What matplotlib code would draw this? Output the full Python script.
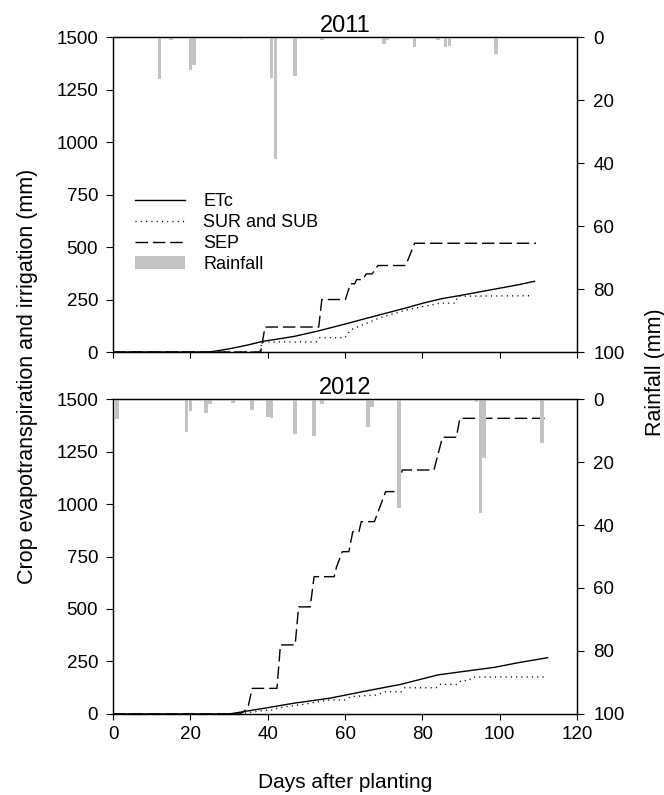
import matplotlib
matplotlib.use('Agg')
import matplotlib.pyplot as plt
from matplotlib.patches import Patch

plt.rcParams['font.family'] = ['Liberation Sans', 'DejaVu Sans']
plt.rcParams['font.size'] = 13.5

# 2011 cumulative water (mm) vs days after planting
etc11_days = [0, 25, 30, 35, 39, 42, 47, 53, 60, 65, 70, 76, 80, 85, 90, 95, 100, 105, 109]
etc11_mm = [0, 0, 15, 34, 52, 60, 75, 100, 133, 158, 182, 211, 232, 254, 270, 287, 304, 321, 337]
sur11_days = [0, 38, 38.5, 52.5, 53.5, 60, 61.5, 69, 76, 84.7, 88.5, 89.2, 108]
sur11_mm = [0, 0, 48, 48, 68, 68, 106, 163, 201, 233, 233, 266, 268]
sep11_days = [0, 38.2, 39.3, 53.2, 54, 60.1, 61.4, 62.5, 63, 64.5, 65.5, 67, 68.5, 75.7, 78, 109.4]
sep11_mm = [0, 0, 119, 119, 250, 250, 325, 325, 345, 345, 372, 372, 412, 412, 518, 518]
rain11_days = [12, 15, 20, 21, 33, 41, 42, 47, 54, 70, 71, 78, 84, 86, 87, 99]
rain11_mm = [13.3, 1.0, 10.6, 8.8, 0.5, 13.0, 38.6, 12.3, 1.0, 2.2, 1.0, 3.1, 0.8, 3.2, 2.8, 5.4]

# 2012
etc12_days = [0, 30, 33.7, 40, 47, 56, 65, 74.4, 84, 90, 98.6, 105, 112.4]
etc12_mm = [0, 0, 11, 30, 52, 75, 108, 141, 186, 201, 222, 245, 268]
sur12_days = [0, 31, 33, 38, 41, 43, 50, 52, 56, 60, 61.5, 68, 70.5, 74.5, 75.5, 83.5, 84.5,
              89, 90, 92, 93, 111.5]
sur12_mm = [0, 0, 2, 15, 19, 30, 48, 55, 67, 67, 83, 90, 106, 106, 125, 125, 141,
            141, 159, 159, 176, 176]
sep12_days = [0, 32.9, 34, 35, 36, 42.4, 43.3, 47.1, 48, 51, 52, 57.2, 57.8, 59.3, 61, 62,
              63.6, 64.2, 67.6, 70.5, 73.5, 74.8, 83, 85.2, 88.8, 89.7, 112.2]
sep12_mm = [0, 0, 15, 40, 122, 122, 329, 329, 510, 510, 654, 654, 700, 773, 773, 868,
            868, 916, 916, 1059, 1059, 1162, 1162, 1318, 1318, 1408, 1408]
rain12_days = [1, 10, 19, 20, 24, 25, 31, 36, 40, 41, 47, 52, 54, 66, 67, 74, 94, 95, 96, 111]
rain12_mm = [6.5, 0.3, 10.4, 3.7, 4.3, 1.6, 1.2, 3.5, 5.6, 6.1, 11.2, 11.7, 1.6, 8.8, 2.4,
             34.5, 0.8, 36.3, 18.6, 14.1]

RAIN_COLOR = '#c3c3c3'

fig = plt.figure(figsize=(6.64, 7.95), dpi=100)
ax_top = fig.add_axes([0.1702, 0.5572, 0.6988, 0.3962])
ax_bot = fig.add_axes([0.1702, 0.1019, 0.6988, 0.3962])


def draw_panel(ax, year, etc_d, etc_v, sur_d, sur_v, sep_d, sep_v, rain_d, rain_v, xlabels):
    ax.plot(etc_d, etc_v, color='k', lw=1.0, label='ETc')
    ax.plot(sur_d, sur_v, color='k', lw=1.0, linestyle=(0, (0.8, 3.0)), label='SUR and SUB')
    ax.plot(sep_d, sep_v, color='k', lw=1.0, linestyle=(0, (9, 3.5)), label='SEP')
    ax.set_xlim(0, 120)
    ax.set_ylim(0, 1500)
    ax.set_xticks(range(0, 121, 20))
    ax.set_yticks(range(0, 1501, 250))
    if not xlabels:
        ax.set_xticklabels([])
    ax.tick_params(axis='y', direction='out', length=4.8, width=0.8, pad=6)
    ax.tick_params(axis='x', direction='out', length=4.5, width=0.8, pad=4.5)
    ax.set_title(year, fontsize=17, pad=3.5)

    axr = ax.twinx()
    axr.bar(rain_d, rain_v, width=0.95, color=RAIN_COLOR, linewidth=0)
    axr.set_ylim(100, 0)
    axr.set_yticks(range(0, 101, 20))
    axr.tick_params(axis='y', direction='out', length=4.8, width=0.8, pad=7)
    for a in (ax, axr):
        for s in a.spines.values():
            s.set_linewidth(0.9)
    return axr


draw_panel(ax_top, '2011', etc11_days, etc11_mm, sur11_days, sur11_mm,
           sep11_days, sep11_mm, rain11_days, rain11_mm, False)
draw_panel(ax_bot, '2012', etc12_days, etc12_mm, sur12_days, sur12_mm,
           sep12_days, sep12_mm, rain12_days, rain12_mm, True)

handles, labels = ax_top.get_legend_handles_labels()
handles.append(Patch(facecolor=RAIN_COLOR, edgecolor='none'))
labels.append('Rainfall')
ax_top.legend(handles, labels, loc='upper left', bbox_to_anchor=(0.047, 0.505),
              frameon=False, fontsize=13, handlelength=2.8, handletextpad=1.0,
              labelspacing=0.22, borderpad=0, borderaxespad=0)

fig.text(345 / 664, 1 - 782 / 795, 'Days after planting', ha='center', va='center', fontsize=15)
fig.text(28 / 664, 1 - 376 / 795, 'Crop evapotranspiration and irrigation (mm)',
         ha='center', va='center', rotation=90, fontsize=15.5)
fig.text(655 / 664, 1 - 372 / 795, 'Rainfall (mm)', ha='center', va='center',
         rotation=90, fontsize=15.5)

fig.savefig('out.png', dpi=100)
